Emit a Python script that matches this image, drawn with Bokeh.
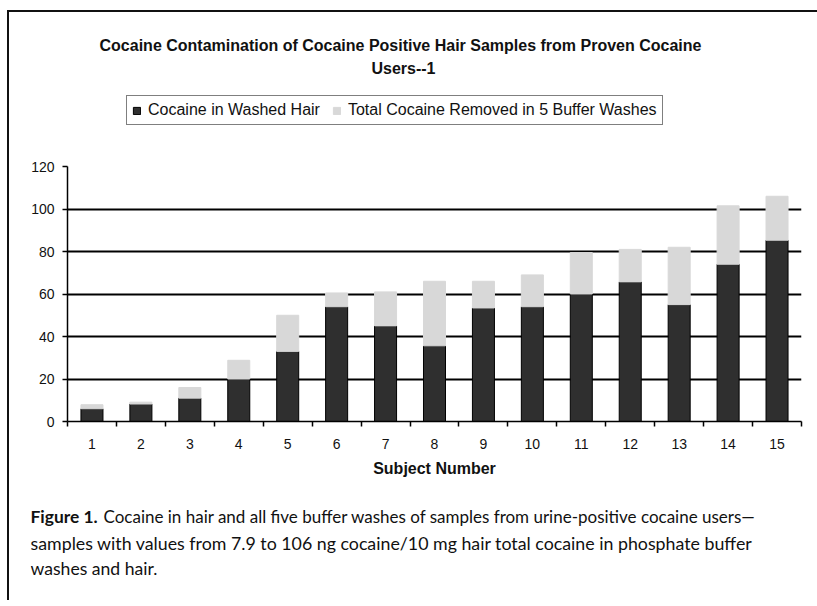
from bokeh.plotting import figure
from bokeh.models import (FixedTicker, Label, Legend, LegendItem,
                          Range1d, ColumnDataSource)
from bokeh.layouts import column
from bokeh.embed import file_html
from bokeh.resources import INLINE

# ---- data ----
subjects = list(range(1, 16))
hair = [6, 8.2, 11, 20, 33, 54, 45, 35.6, 53.4, 54, 60, 65.7, 55, 74, 85.3]
removed = [1.9, 0.9, 5, 8.8, 17, 6.5, 16, 30.4, 12.6, 15, 19.5, 15.3, 27, 27.5, 20.7]
y_ticks = [0, 20, 40, 60, 80, 100, 120]
grid_ticks = [20, 40, 60, 80, 100]
series_names = ["Cocaine in Washed Hair", "Total Cocaine Removed in 5 Buffer Washes"]
title_lines = ["Cocaine Contamination of Cocaine Positive Hair Samples from Proven Cocaine",
               "Users--1"]
x_label = "Subject Number"
caption_bold = "Figure 1."
caption_lines = [
    "Cocaine in hair and all five buffer washes of samples from urine-positive cocaine users\u2014",
    "samples with values from 7.9 to 106 ng cocaine/10 mg hair total cocaine in phosphate buffer",
    "washes and hair.",
]

FONT = "Liberation Sans"
CAP_FONT = "Lato"
DARK = "#2f2f2f"
LIGHT = "#d8d8d8"
SHIFT = 58       # frame left offset inside the column (frames are aligned)


def blank(h, w=734):
    f = figure(frame_width=w, frame_height=h, x_range=Range1d(0, w), y_range=Range1d(0, h),
               output_backend="svg", toolbar_location=None,
               x_axis_location=None, y_axis_location=None,
               min_border_left=SHIFT, min_border_right=16,
               min_border_top=0, min_border_bottom=0)
    f.grid.visible = False
    f.outline_line_color = None
    return f


def slabel(x, y, text, font, size, style="normal", align="left"):
    # x, y in pixels relative to the figure frame (y up from frame bottom)
    return Label(x=x, y=y, x_units="screen", y_units="screen", text=text,
                 text_align=align, text_baseline="middle", text_font=font,
                 text_font_style=style, text_font_size=size, text_color="#111111")


# ---------- top: title + legend ----------
top = blank(128)
top.add_layout(slabel(333, 95, title_lines[0], FONT, "16px", "bold", "center"))
top.add_layout(slabel(336, 72, title_lines[1], FONT, "16px", "bold", "center"))
# legend proxies (zero-height, far outside the visible range)
proxy_src = ColumnDataSource(dict(x=[-5000], t=[0]))
r0 = top.vbar(x="x", top="t", width=1, source=proxy_src, fill_color=DARK, line_color="black")
r1 = top.vbar(x="x", top="t", width=1, source=proxy_src, fill_color=LIGHT, line_color=LIGHT)
legend = Legend(items=[LegendItem(label=series_names[0], renderers=[r0]),
                       LegendItem(label=series_names[1], renderers=[r1])],
                orientation="horizontal", location=(59, 15),
                border_line_color="black", border_line_width=1.5,
                background_fill_color="white", background_fill_alpha=1,
                label_text_font=FONT, label_text_font_size="16px",
                label_text_color="#111111",
                glyph_width=9, glyph_height=9, label_standoff=7,
                spacing=12, padding=5, margin=0, label_height=18)
top.add_layout(legend, "center")

# ---------- main chart ----------
p = figure(frame_width=734, frame_height=255,
           x_range=Range1d(0.5, 15.5), y_range=Range1d(0, 120),
           output_backend="svg", toolbar_location=None,
           min_border_left=SHIFT, min_border_right=16,
           min_border_top=26, min_border_bottom=69)
p.outline_line_color = None

src = ColumnDataSource(dict(x=subjects, hair=hair, removed=removed))
p.vbar_stack(["hair", "removed"], x="x", width=0.45, source=src,
             fill_color=[DARK, LIGHT], line_color=["black", LIGHT], line_width=1)

p.yaxis.ticker = FixedTicker(ticks=y_ticks)
p.yaxis.major_tick_out = 5
p.yaxis.major_tick_in = 0
p.yaxis.minor_tick_line_color = None
p.yaxis.axis_line_width = 1.5
p.yaxis.axis_line_color = "black"
p.yaxis.major_tick_line_width = 1.5
p.yaxis.major_tick_line_color = "black"
p.yaxis.major_label_text_font = FONT
p.yaxis.major_label_text_font_size = "14px"
p.yaxis.major_label_text_color = "#111111"
p.yaxis.major_label_standoff = 8

p.xaxis.ticker = FixedTicker(ticks=subjects,
                             minor_ticks=[s - 0.5 for s in subjects] + [15.5])
p.xaxis.major_tick_line_color = None
p.xaxis.major_tick_out = 0
p.xaxis.major_tick_in = 0
p.xaxis.minor_tick_out = 5
p.xaxis.minor_tick_in = 0
p.xaxis.minor_tick_line_width = 1.5
p.xaxis.minor_tick_line_color = "black"
p.xaxis.axis_line_width = 1.5
p.xaxis.axis_line_color = "black"
p.xaxis.major_label_text_font = FONT
p.xaxis.major_label_text_font_size = "14px"
p.xaxis.major_label_text_color = "#111111"
p.xaxis.major_label_standoff = 12
p.xaxis.axis_label = x_label
p.xaxis.axis_label_text_font = FONT
p.xaxis.axis_label_text_font_style = "bold"
p.xaxis.axis_label_text_font_size = "16px"
p.xaxis.axis_label_text_color = "#111111"
p.xaxis.axis_label_standoff = 8

p.xgrid.grid_line_color = None
p.ygrid.ticker = FixedTicker(ticks=grid_ticks)
p.ygrid.grid_line_color = "black"
p.ygrid.grid_line_width = 1.8

# ---------- caption (own figure, shifted left so its frame starts at the caption margin) ----------
bot = blank(110, w=770)
bot.border_fill_alpha = 0
bot.background_fill_alpha = 0
bot.styles = {"margin-left": "-37px"}
bot.add_layout(slabel(0, 84, caption_bold, CAP_FONT, "17.4px", "bold"))
bot.add_layout(slabel(73, 84, caption_lines[0], CAP_FONT, "17px"))
bot.add_layout(slabel(0, 58, caption_lines[1], CAP_FONT, "17.8px"))
bot.add_layout(slabel(0, 32, caption_lines[2], CAP_FONT, "17.6px"))

layout = column(column(top, p, spacing=0), bot, spacing=0,
                styles={"margin-left": "7px", "margin-top": "10px",
                        "border-left": "2px solid #111", "border-top": "2px solid #111"})

open("out.html", "w").write(file_html(layout, INLINE))
